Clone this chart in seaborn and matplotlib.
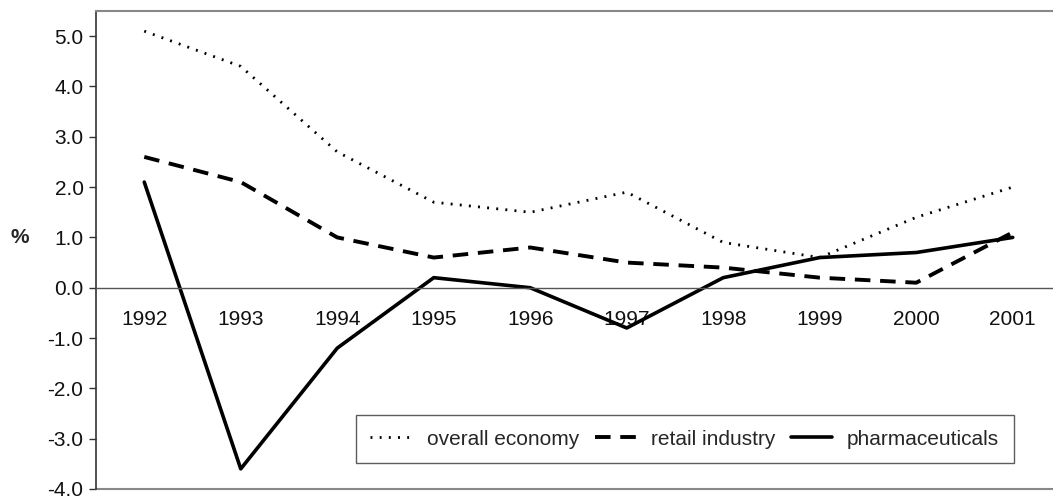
import seaborn as sns
import pandas as pd
import matplotlib.pyplot as plt

years = ['1992', '1993', '1994', '1995', '1996', '1997', '1998', '1999', '2000', '2001']
overall_economy = [5.1, 4.4, 2.7, 1.7, 1.5, 1.9, 0.9, 0.6, 1.4, 2.0]
retail_industry = [2.6, 2.1, 1.0, 0.6, 0.8, 0.5, 0.4, 0.2, 0.1, 1.1]
pharmaceuticals = [2.1, -3.6, -1.2, 0.2, 0.0, -0.8, 0.2, 0.6, 0.7, 1.0]
y_ticks = [-4.0, -3.0, -2.0, -1.0, 0.0, 1.0, 2.0, 3.0, 4.0, 5.0]

df = pd.DataFrame({'Year': years,
                   'overall economy': overall_economy,
                   'retail industry': retail_industry,
                   'pharmaceuticals': pharmaceuticals})

sns.set_style('white')
plt.rcParams['font.family'] = ['Liberation Sans', 'DejaVu Sans']
fs = 15

fig = plt.figure(figsize=(10.53, 4.96), dpi=100)
ax = fig.add_axes([96 / 1053, 7 / 496, 965 / 1053, 478 / 496])

sns.lineplot(data=df, x='Year', y='overall economy', ax=ax, color='black',
             linewidth=2, linestyle=(0, (0.7, 2.6)), label='overall economy')
sns.lineplot(data=df, x='Year', y='retail industry', ax=ax, color='black',
             linewidth=2.8, linestyle=(0, (4, 2.5)), label='retail industry')
sns.lineplot(data=df, x='Year', y='pharmaceuticals', ax=ax, color='black',
             linewidth=2.6, linestyle='-', label='pharmaceuticals')

ax.set_xlim(-0.5, 9.5)
ax.set_ylim(-4.0, 5.5)
ax.set_yticks(y_ticks, labels=[f'{v:.1f}' for v in y_ticks])

# category labels at centres, tick marks at boundaries
ax.set_xticks(range(len(years)), labels=years)
ax.set_xticks([i + 0.5 for i in range(len(years))], minor=True)
ax.tick_params(axis='both', which='major', labelsize=fs, labelcolor='#111111')
ax.tick_params(axis='x', which='major', length=0, pad=16)
ax.tick_params(axis='x', which='minor', length=5, width=1, color='#333333', direction='out')
ax.tick_params(axis='y', length=5, width=1, color='#333333', direction='out', left=True, pad=4)

ax.spines['bottom'].set_position(('data', 0))
ax.spines['bottom'].set_color('#555555')
ax.spines['bottom'].set_linewidth(1)
ax.spines['left'].set_color('#333333')
ax.spines['left'].set_linewidth(1.2)
ax.spines['top'].set_color('#888888')
ax.spines['top'].set_linewidth(1.5)
ax.spines['right'].set_visible(False)
ax.axhline(-4.0, color='#888888', linewidth=1.5, clip_on=False)

ax.set_xlabel('')
ax.set_ylabel('%', fontsize=fs, fontweight='bold', rotation=0, va='center', ha='center')
ax.yaxis.set_label_coords(-0.079, 0.527)

leg = ax.legend(loc='lower right', bbox_to_anchor=(0.951, 0.054), ncol=3,
                fontsize=fs, frameon=True, fancybox=False, edgecolor='#333333',
                handlelength=2.0, handletextpad=0.7, columnspacing=0.75,
                borderpad=0.7, borderaxespad=0)
leg.get_frame().set_linewidth(1)

fig.savefig('out.png', dpi=100)
